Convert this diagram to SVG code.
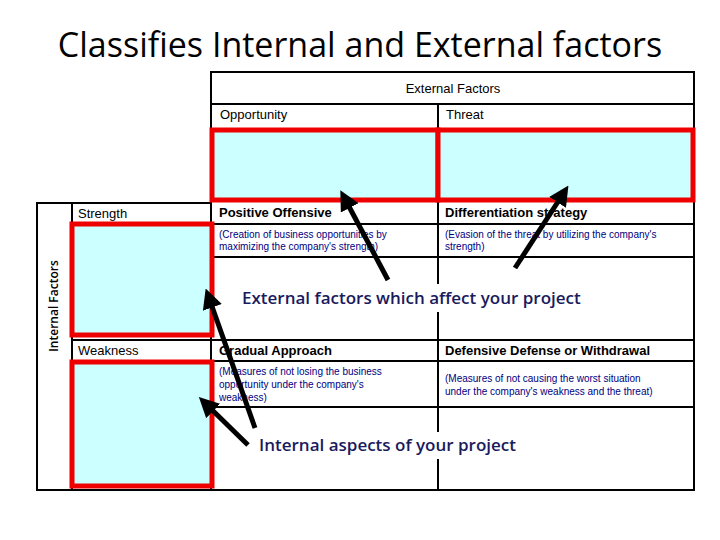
<svg xmlns="http://www.w3.org/2000/svg" width="720" height="540" viewBox="0 0 720 540">
<style>
.ln{stroke:#000;stroke-width:2;fill:none}
.h{font-family:"Liberation Sans",Arial,sans-serif;font-size:13px;fill:#000}
.b{font-weight:bold}
.s{font-family:"Liberation Sans",Arial,sans-serif;font-size:10px;fill:#000080}
.big{font-family:"Open Sans","Noto Sans",sans-serif;font-size:17px;font-weight:600;fill:#1a1a5e}
.red{fill:#ccffff;stroke:#ee0000;stroke-width:5}
.ar{stroke:#000;stroke-width:5;marker-end:url(#ah)}
</style>
<defs><marker id="ah" markerWidth="4" markerHeight="4" refX="2" refY="2" orient="auto" markerUnits="strokeWidth"><path d="M0,0 L4,2 L0,4z" fill="#000"/></marker></defs>
<rect width="720" height="540" fill="#fff"/>
<text x="360" y="57" text-anchor="middle" font-family="Open Sans,Noto Sans,sans-serif" font-size="34" fill="#000">Classifies Internal and External factors</text>
<g id="table">
<rect x="211" y="72" width="483" height="418" class="ln"/>
<rect x="37" y="203" width="174" height="287" class="ln"/>
<line x1="72" y1="203" x2="72" y2="490" class="ln"/>
<line x1="211" y1="104" x2="694" y2="104" class="ln"/>
<line x1="211" y1="224" x2="694" y2="224" class="ln"/>
<line x1="211" y1="257" x2="694" y2="257" class="ln"/>
<line x1="72" y1="340" x2="694" y2="340" class="ln"/>
<line x1="211" y1="361" x2="694" y2="361" class="ln"/>
<line x1="211" y1="407" x2="694" y2="407" class="ln"/>
<line x1="438" y1="104" x2="438" y2="490" class="ln"/>
<text x="453" y="93" text-anchor="middle" class="h" font-size="15">External Factors</text>
<text x="220" y="119" class="h">Opportunity</text>
<text x="446" y="119" class="h">Threat</text>
<text x="78" y="218" class="h">Strength</text>
<text x="78" y="355" class="h">Weakness</text>
<text x="58" y="306" transform="rotate(-90 58 306)" text-anchor="middle" font-family="Open Sans,Noto Sans,sans-serif" font-size="12" font-weight="600" fill="#000">Internal Factors</text>
<text x="219" y="217" class="h b" font-size="11">Positive Offensive</text>
<text x="445" y="217" class="h b" font-size="11">Differentiation strategy</text>
<text x="219" y="238" class="s">(Creation of business opportunities by</text>
<text x="219" y="250" class="s">maximizing the company's strength)</text>
<text x="445" y="238" class="s">(Evasion of the threat by utilizing the company's</text>
<text x="445" y="250" class="s">strength)</text>
<text x="219" y="355" class="h b" font-size="11">Gradual Approach</text>
<text x="445" y="355" class="h b" font-size="11">Defensive Defense or Withdrawal</text>
<text x="219" y="375" class="s">(Measures of not losing the business</text>
<text x="219" y="388" class="s">opportunity under the company's</text>
<text x="219" y="401" class="s">weakness)</text>
<text x="445" y="382" class="s">(Measures of not causing  the worst situation</text>
<text x="445" y="395" class="s">under the company's weakness and the threat)</text>
</g>
<g id="highlights">
<rect x="212" y="130" width="226" height="70" class="red"/>
<rect x="438" y="130" width="255" height="70" class="red"/>
<rect x="72" y="224" width="140" height="111" class="red"/>
<rect x="72" y="362" width="140" height="124" class="red"/>
</g>
<g id="labels">
<rect x="238" y="284" width="370" height="28" fill="#fff"/>
<text x="242" y="304" class="big">External factors which affect your project</text>
<rect x="255" y="432" width="282" height="27" fill="#fff"/>
<text x="259" y="451" class="big">Internal aspects of your project</text>
</g>
<g id="connectors">
<line x1="388" y1="280" x2="345" y2="199" class="ar"/>
<line x1="515" y1="268" x2="563" y2="194" class="ar"/>
<line x1="255" y1="428" x2="209" y2="298" class="ar"/>
<line x1="248" y1="445" x2="206" y2="404" class="ar"/>
</g>
</svg>
